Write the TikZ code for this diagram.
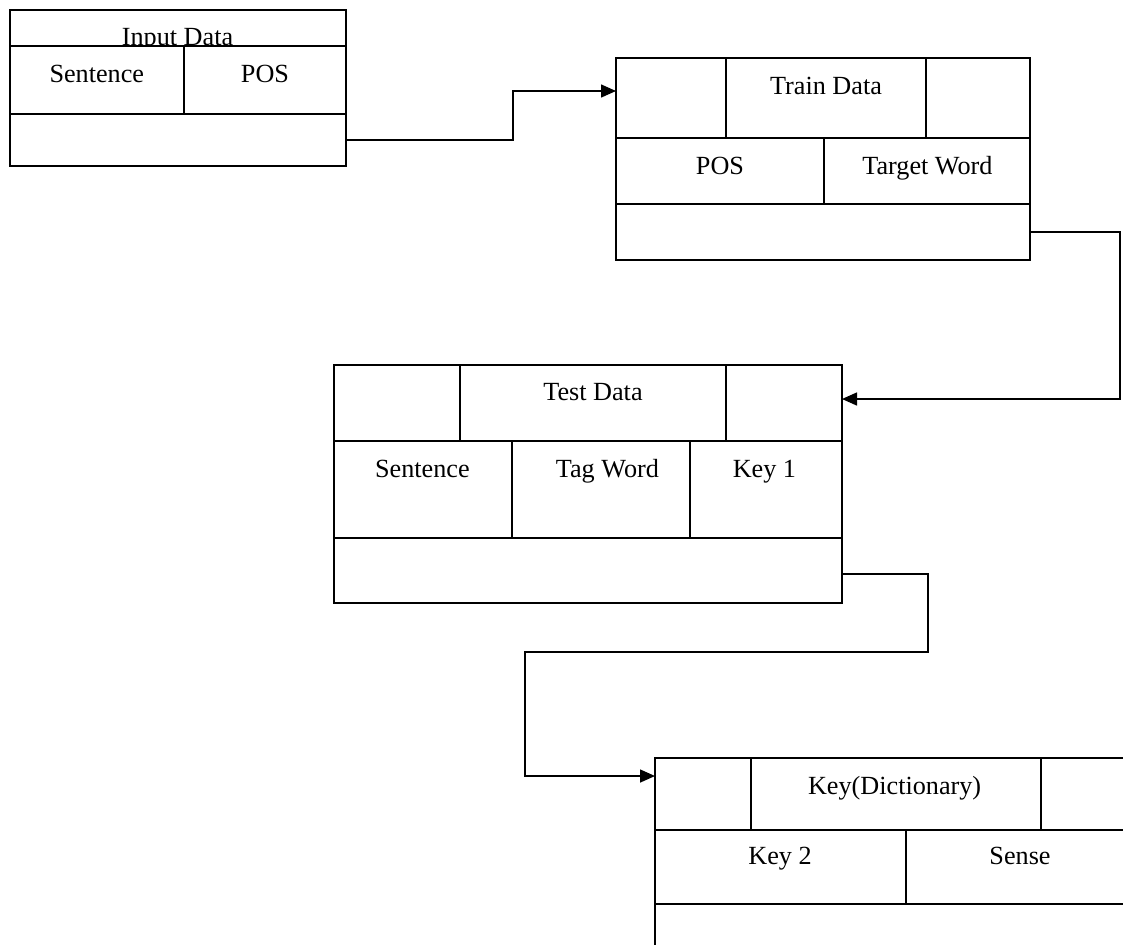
\documentclass[tikz,border=0pt]{standalone}
\usepackage{fontspec}
\setmainfont{Liberation Serif}
\usetikzlibrary{arrows.meta}

\begin{document}
\begin{tikzpicture}[x=1pt, y=-1pt, font=\fontsize{13.1}{15}\selectfont, line width=0.8pt]
\tikzstyle{cell} = [draw, rectangle, fill=white, inner sep=0pt, outer sep=0pt, anchor=north west]
\tikzstyle{txt} = [anchor=base, inner sep=0pt]
\tikzstyle{arrow} = [line width=0.75pt, -{Triangle[length=7.5pt,width=6.5pt]}]

\useasboundingbox (0,0) rectangle (561.5,472);
\clip (0,0) rectangle (561.5,472);

% input data
\node[cell, minimum width=168pt, minimum height=18pt] (inTitle) at (5,5) {};
\node[txt] (inTitleTxt) at (88.75,22.6) {Input Data};
\node[cell, minimum width=87pt, minimum height=34pt] (inSent) at (5,23) {};
\node[cell, minimum width=81pt, minimum height=34pt] (inPos) at (92,23) {};
\node[cell, minimum width=168pt, minimum height=26pt] (inBot) at (5,57) {};
\node[txt] (inSentTxt) at (48.4,41.2) {Sentence};
\node[txt] (inPosTxt) at (132.5,41.2) {POS};

% train data
\node[cell, minimum width=55pt, minimum height=40pt] (trL) at (308,29) {};
\node[cell, minimum width=100pt, minimum height=40pt] (trTitle) at (363,29) {};
\node[cell, minimum width=52pt, minimum height=40pt] (trR) at (463,29) {};
\node[cell, minimum width=104pt, minimum height=33pt] (trPos) at (308,69) {};
\node[cell, minimum width=103pt, minimum height=33pt] (trTarget) at (412,69) {};
\node[cell, minimum width=207pt, minimum height=28pt] (trBot) at (308,102) {};
\node[txt] (trTitleTxt) at (413,47.2) {Train Data};
\node[txt] (trPosTxt) at (360,87) {POS};
\node[txt] (trTargetTxt) at (463.7,87) {Target Word};

% test data
\node[cell, minimum width=63pt, minimum height=38pt] (teL) at (167,182.5) {};
\node[cell, minimum width=133pt, minimum height=38pt] (teTitle) at (230,182.5) {};
\node[cell, minimum width=58pt, minimum height=38pt] (teR) at (363,182.5) {};
\node[cell, minimum width=89pt, minimum height=48.5pt] (teSent) at (167,220.5) {};
\node[cell, minimum width=89pt, minimum height=48.5pt] (teTag) at (256,220.5) {};
\node[cell, minimum width=76pt, minimum height=48.5pt] (teKey) at (345,220.5) {};
\node[cell, minimum width=254pt, minimum height=32.5pt] (teBot) at (167,269) {};
\node[txt] (teTitleTxt) at (296.5,200) {Test Data};
\node[txt] (teSentTxt) at (211.2,238.8) {Sentence};
\node[txt] (teTagTxt) at (303.7,238.8) {Tag Word};
\node[txt] (teKeyTxt) at (382.2,238.8) {Key 1};

% key (dictionary)
\node[cell, minimum width=48pt, minimum height=36pt] (kyL) at (327.5,379) {};
\node[cell, minimum width=145pt, minimum height=36pt] (kyTitle) at (375.5,379) {};
\node[cell, minimum width=54.5pt, minimum height=36pt] (kyR) at (520.5,379) {};
\node[cell, minimum width=125.5pt, minimum height=37pt] (kyKey) at (327.5,415) {};
\node[cell, minimum width=122pt, minimum height=37pt] (kySense) at (453,415) {};
\node[cell, minimum width=247.5pt, minimum height=30pt] (kyBot) at (327.5,452) {};
\node[txt] (kyTitleTxt) at (447.3,397.2) {Key(Dictionary)};
\node[txt] (kyKeyTxt) at (390,432) {Key 2};
\node[txt] (kySenseTxt) at (510,432) {Sense};

% connectors
\draw [arrow] (inBot.east) -- (256.5,70) |- ([yshift=3.5pt]trL.west);
\draw [arrow] (trBot.east) -- (560,116) |- ([yshift=2pt]teR.east);
\draw [arrow] ([yshift=-1.75pt]teBot.east) -| (464,326) -| (262.5,388) -- ([yshift=9pt]kyL.west);
\end{tikzpicture}
\end{document}
